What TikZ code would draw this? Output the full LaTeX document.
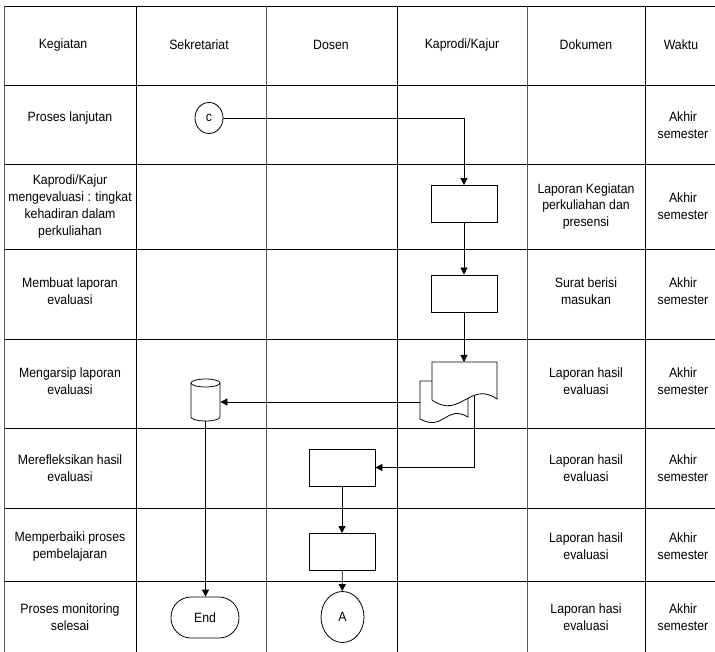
\documentclass[tikz,border=0pt]{standalone}
\usepackage{fontspec}
\setmainfont{Liberation Sans}[FakeStretch=0.91]
\usetikzlibrary{arrows.meta,shapes.geometric}

\begin{document}
\begin{tikzpicture}[x=1pt,y=-1pt,line width=0.8pt,
  txt/.style={align=center,font=\fontsize{13.5}{16.7}\selectfont},
  proc/.style={draw,fill=white,minimum width=66pt,minimum height=37pt},
  conn/.style={draw,ellipse,inner sep=0pt,font=\fontsize{13.5}{16}\selectfont},
  flow/.style={-{Triangle[length=7pt,width=7pt]}},
  lane/.style={black!65}]
  \useasboundingbox (0,0) rectangle (715,652);
  % table
  \draw (4,6) -- (715,6);
  \draw (4,85) -- (715,85);
  \draw (4,164) -- (715,164);
  \draw (4,249) -- (715,249);
  \draw (4,339) -- (715,339);
  \draw (4,428) -- (715,428);
  \draw (4,508) -- (715,508);
  \draw (4,581) -- (715,581);
  \draw[lane] (4,6) -- (4,652);
  \draw (136,6) -- (136,652);
  \draw[lane] (266,6) -- (266,652);
  \draw (397,6) -- (397,652);
  \draw[lane] (527,6) -- (527,652);
  \draw (645,6) -- (645,652);
  % header
  \node[txt] (hkeg) at (63,45) {Kegiatan};
  \node[txt] (hsek) at (199,45) {Sekretariat};
  \node[txt] (hdos) at (331,45) {Dosen};
  \node[txt] (hkap) at (462,45) {Kaprodi/Kajur};
  \node[txt] (hdok) at (586,45) {Dokumen};
  \node[txt] (hwak) at (681,45) {Waktu};
  % kegiatan
  \node[txt] (k1) at (70,118) {Proses lanjutan};
  \node[txt] (k2) at (70,206.5) {Kaprodi/Kajur\\mengevaluasi : tingkat\\kehadiran dalam\\perkuliahan};
  \node[txt] (k3) at (70,291) {Membuat laporan\\evaluasi};
  \node[txt] (k4) at (70,381.5) {Mengarsip laporan\\evaluasi};
  \node[txt] (k5) at (70,468) {Merefleksikan hasil\\evaluasi};
  \node[txt] (k6) at (70,546.5) {Memperbaiki proses\\pembelajaran};
  \node[txt] (k7) at (70,617) {Proses monitoring\\selesai};
  % dokumen
  \node[txt] (d2) at (586,206.5) {Laporan Kegiatan\\perkuliahan dan\\presensi};
  \node[txt] (d3) at (586,291) {Surat berisi\\masukan};
  \node[txt] (d4) at (586,381.5) {Laporan hasil\\evaluasi};
  \node[txt] (d5) at (586,468) {Laporan hasil\\evaluasi};
  \node[txt] (d6) at (586,546.5) {Laporan hasil\\evaluasi};
  \node[txt] (d7) at (586,617) {Laporan hasi\\evaluasi};
  % waktu
  \node[txt] (w1) at (683,125) {Akhir\\semester};
  \node[txt] (w2) at (683,206.5) {Akhir\\semester};
  \node[txt] (w3) at (683,291) {Akhir\\semester};
  \node[txt] (w4) at (683,381.5) {Akhir\\semester};
  \node[txt] (w5) at (683,468) {Akhir\\semester};
  \node[txt] (w6) at (683,546.5) {Akhir\\semester};
  \node[txt] (w7) at (683,617) {Akhir\\semester};
  % flow
  \node[conn,minimum width=28pt,minimum height=31pt] (cc) at (209,118) {c};
  \node[proc] (p1) at (464,204) {};
  \node[proc] (p2) at (464,293.5) {};
  \node[proc] (p3) at (342,467.5) {};
  \node[proc] (p4) at (342,552) {};
  \node[conn,minimum width=43pt,minimum height=51pt] (ca) at (342.5,617) {A};
  \node[draw,txt,rounded corners=20pt,minimum width=68pt,minimum height=41pt] (end) at (205,617.5) {End};
  % arsip
  \node[minimum width=29pt,minimum height=42pt,inner sep=0pt] (cyl) at (205.5,400) {};
  \draw[fill=white] (191,383) -- (191,417)
    arc[start angle=180,end angle=0,x radius=14.5,y radius=4] -- (220,383);
  \draw (205.5,383) ellipse[x radius=14.5,y radius=4];
  % laporan (dokumen ganda)
  \draw[fill=white] (468,381) -- (420,381) -- (420,419)
    .. controls (444,432) and (446,404) .. (468,417) -- cycle;
  \draw[fill=white] (432,362) -- (497,362) -- (497,399)
    .. controls (470,380) and (460,420) .. (432,400) -- cycle;
  \coordinate (docin) at (464,362);
  \coordinate (docout) at (420,402);
  \coordinate (docdown) at (474,396);
  % connectors
  \draw[flow] (cc.east) -| (p1.north);
  \draw[flow] (p1) -- (p2);
  \draw[flow] (p2) -- (docin);
  \draw[flow] (docout) -- (docout -| cyl.east);
  \draw[flow] (docdown) |- (p3.east);
  \draw[flow] (p3) -- (p4);
  \draw[flow] (p4) -- (ca);
  \draw[flow] (cyl.south) -- (cyl.south |- end.north);
\end{tikzpicture}
\end{document}
